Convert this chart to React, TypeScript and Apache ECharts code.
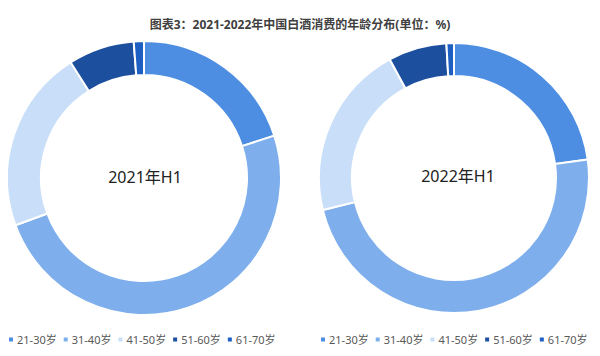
import React, { useEffect, useRef } from "react";
import * as echarts from "echarts";

const categories = ["21-30岁", "31-40岁", "41-50岁", "51-60岁", "61-70岁"];
const values2021 = [20.0, 49.4, 21.6, 7.8, 1.2];
const values2022 = [22.8, 48.4, 20.9, 7.0, 0.9];
const colors = ["#4d8ee2", "#7eafec", "#c9def8", "#1c4f9e", "#1d5fc2"];
const centerLabels = ["2021年H1", "2022年H1"];
const titleText = "图表3：2021-2022年中国白酒消费的年龄分布(单位：%)";

const FONT = '"Noto Sans", "Noto Sans CJK SC", sans-serif';

export default function App() {
  const ref = useRef<HTMLDivElement>(null);
  useEffect(() => {
    if (!ref.current) return;
    const chart = echarts.init(ref.current, null, { renderer: "svg" });
    const mk = (vals: number[]) => categories.map((c, i) => ({ name: c, value: vals[i] }));
    const legendBase = {
      data: categories,
      icon: "rect",
      itemWidth: 6,
      itemHeight: 6,
      itemGap: 5,
      top: 329,
      width: 290,
      textStyle: { fontSize: 11, color: "#595959", fontFamily: FONT, padding: [0, 0, 0, -2] },
      selectedMode: false,
    };
    chart.setOption({
      animation: false,
      color: colors,
      title: {
        text: titleText,
        left: "center",
        top: 13,
        textStyle: { fontSize: 12, fontWeight: "bold", color: "#404040", fontFamily: FONT },
      },
      legend: [
        { ...legendBase, left: 2 },
        { ...legendBase, left: 314 },
      ],
      graphic: [
        {
          type: "text",
          x: 145,
          y: 177,
          style: {
            text: centerLabels[0],
            fontSize: 16,
            fill: "#222",
            fontFamily: FONT,
            textAlign: "center",
            textVerticalAlign: "middle",
          },
        },
        {
          type: "text",
          x: 458,
          y: 176,
          style: {
            text: centerLabels[1],
            fontSize: 16,
            fill: "#222",
            fontFamily: FONT,
            textAlign: "center",
            textVerticalAlign: "middle",
          },
        },
      ],
      series: [
        {
          type: "pie",
          center: [144, 178],
          radius: [103, 137],
          startAngle: 90,
          clockwise: true,
          label: { show: false },
          labelLine: { show: false },
          emphasis: { disabled: true },
          itemStyle: { borderColor: "#fff", borderWidth: 2 },
          data: mk(values2021),
        },
        {
          type: "pie",
          center: [454, 178],
          radius: [102, 135],
          startAngle: 90,
          clockwise: true,
          label: { show: false },
          labelLine: { show: false },
          emphasis: { disabled: true },
          itemStyle: { borderColor: "#fff", borderWidth: 2 },
          data: mk(values2022),
        },
      ],
    });
    return () => chart.dispose();
  }, []);
  return <div ref={ref} style={{ width: 600, height: 356, margin: -8 }} />;
}
